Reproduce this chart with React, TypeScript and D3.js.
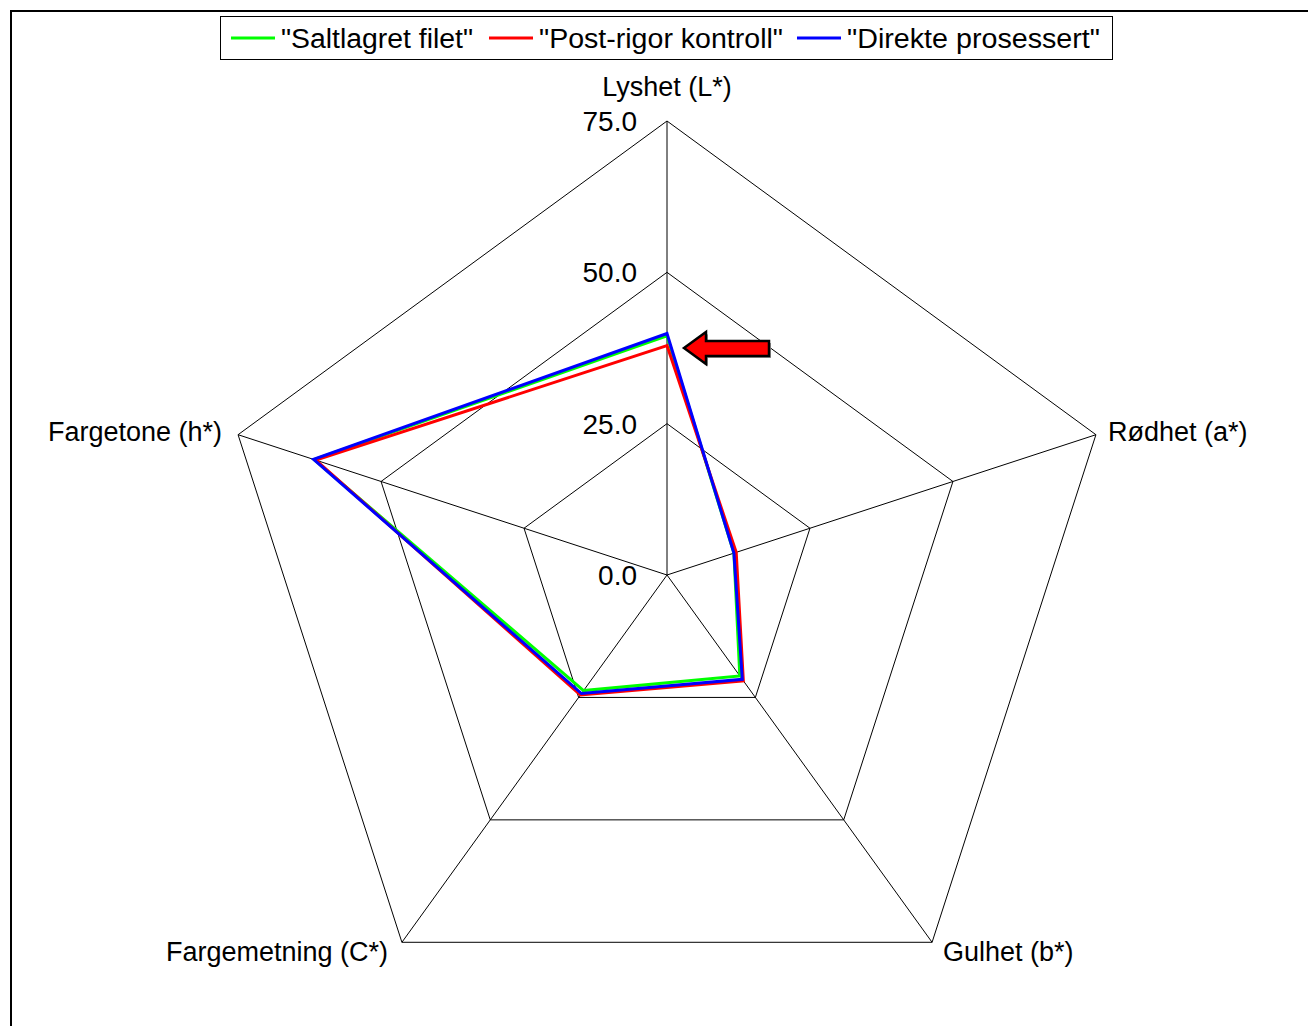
import React from "react";
import * as d3 from "d3";

const axes = ["Lyshet (L*)", "Rødhet (a*)", "Gulhet (b*)", "Fargemetning (C*)", "Fargetone (h*)"];
const seriesNames = ['"Saltlagret filet"', '"Post-rigor kontroll"', '"Direkte prosessert"'];
const seriesColors = ["#00ff00", "#ff0000", "#0000ff"];
const saltlagret = [39.5, 11.7, 20.6, 23.6, 61.7];
const postRigor = [37.9, 12.1, 21.6, 24.5, 61.4];
const direkte = [39.9, 11.7, 21.3, 24.2, 61.8];
const ticks = [0, 25, 50, 75];
const tickLabels = ["0.0", "25.0", "50.0", "75.0"];

const W = 1308, H = 1026;
const cx = 667, cy = 575, R = 454, RX = 451;
const FONT = "'Liberation Sans', Arial, sans-serif";

export default function App() {
  const r = d3.scaleLinear().domain([0, 75]).range([0, R]);
  const rx = d3.scaleLinear().domain([0, 75]).range([0, RX]);
  const ang = (i: number) => (i * 2 * Math.PI) / axes.length;
  const pt = (i: number, v: number): [number, number] => [
    cx + Math.sin(ang(i)) * rx(v),
    cy - Math.cos(ang(i)) * r(v),
  ];
  const line = d3.line<[number, number]>().curve(d3.curveLinearClosed);
  const data = [saltlagret, postRigor, direkte];

  const labelPos = [
    { x: cx, y: 96, anchor: "middle" },
    { x: 1108, y: 441, anchor: "start" },
    { x: 943, y: 961, anchor: "start" },
    { x: 388, y: 961, anchor: "end" },
    { x: 222, y: 441, anchor: "end" },
  ];

  const legendItems = [
    { lx: 231, tx: 281, w: 192 },
    { lx: 489, tx: 539, w: 244 },
    { lx: 797, tx: 847, w: 253 },
  ];

  return (
    <svg width={W} height={H} style={{ position: "absolute", left: 0, top: 0, background: "#fff" }} fontFamily={FONT}>
      <rect x={0} y={0} width={W} height={H} fill="#fff" />
      <rect x={11} y={11} width={W + 50} height={H + 50} fill="none" stroke="#000" strokeWidth={2} />
      {/* rings */}
      {ticks.slice(1).map((t) => (
        <path
          key={t}
          d={line(axes.map((_, i) => pt(i, t))) || ""}
          fill="none"
          stroke="#000"
          strokeWidth={1}
        />
      ))}
      {/* spokes */}
      {axes.map((_, i) => {
        const [x, y] = pt(i, 75);
        return <line key={i} x1={cx} y1={cy} x2={x} y2={y} stroke="#000" strokeWidth={1} />;
      })}
      {/* tick labels */}
      {ticks.map((t, i) => (
        <text key={t} x={637} y={cy - r(t) + 10} fontSize={28} textAnchor="end" fill="#000">
          {tickLabels[i]}
        </text>
      ))}
      {/* axis labels */}
      {axes.map((a, i) => (
        <text key={a} x={labelPos[i].x} y={labelPos[i].y} fontSize={27} textAnchor={labelPos[i].anchor as any} fill="#000">
          {a}
        </text>
      ))}
      {/* series */}
      {data.map((d, s) => (
        <path
          key={s}
          d={line(d.map((v, i) => pt(i, v))) || ""}
          fill="none"
          stroke={seriesColors[s]}
          strokeWidth={3}
          strokeLinejoin="miter"
        />
      ))}
      {/* arrow */}
      <g>
        <path
          d="M686,350 L708,334 L708,343 L771,343 L771,358 L708,358 L708,366 Z"
          fill="#999"
          stroke="none"
        />
        <path
          d="M684,348 L706,332 L706,341 L769,341 L769,356 L706,356 L706,364 Z"
          fill="#ff0000"
          stroke="#000"
          strokeWidth={2.5}
          strokeLinejoin="miter"
        />
      </g>
      {/* legend */}
      <rect x={220.5} y={16.5} width={892} height={43} fill="#fff" stroke="#000" strokeWidth={1} />
      {seriesNames.map((n, s) => (
        <g key={n}>
          <line x1={legendItems[s].lx} x2={legendItems[s].lx + 44} y1={38} y2={38} stroke={seriesColors[s]} strokeWidth={3} />
          <text
            x={legendItems[s].tx}
            y={48}
            fontSize={27}
            fill="#000"
            textLength={legendItems[s].w}
            lengthAdjust="spacingAndGlyphs"
          >
            {n}
          </text>
        </g>
      ))}
    </svg>
  );
}
